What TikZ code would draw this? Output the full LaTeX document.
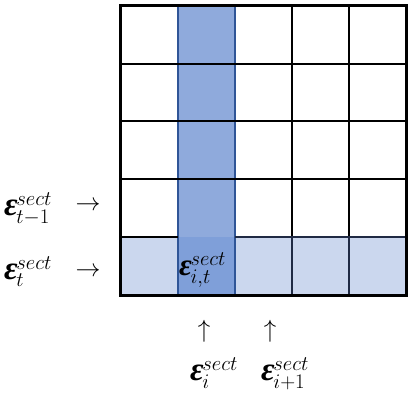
\documentclass[tikz,border=0pt]{standalone}
\usepackage{amsmath}
\usepackage{fontspec}
\newfontfamily\epsfont{Liberation Serif}
\DeclareMathSizes{30}{30}{22}{16}
\DeclareMathSizes{28}{28}{20.5}{15}
\newcommand{\beps}{\text{\epsfont\bfseries\itshape\fontsize{33}{33}\selectfont ε}\mkern-1mu}
\newcommand{\bepsc}{\text{\epsfont\bfseries\itshape\fontsize{31}{31}\selectfont ε}\mkern-1mu}
\definecolor{colband}{HTML}{8FAADC}
\definecolor{colcross}{HTML}{7F9FD9}
\definecolor{colrow}{HTML}{CBD7EE}
\definecolor{colblue}{HTML}{2F5597}
\definecolor{colnavy}{HTML}{1F2A44}
\tikzset{
  lbl/.style={inner sep=0pt, font=\fontsize{30}{32}\selectfont},
  arr/.style={inner sep=0pt, font=\fontsize{23}{25}\selectfont},
  gridline/.style={line width=2.5pt, black},
}
\begin{document}
\begin{tikzpicture}[x=1pt,y=-1pt]
\useasboundingbox (0,0) rectangle (409,393);
% fills
\fill[colrow] (120,237) rectangle (406,295);
\fill[colband] (178,6) rectangle (235,237);
\fill[colcross] (178,237) rectangle (235,295);
% inner lines
\foreach \x in {292,349} {
  \draw[gridline] (\x,6) -- (\x,237);
  \draw[line width=2.2pt, colnavy] (\x,237) -- (\x,295);
}
\foreach \x in {178,235} \draw[line width=2.2pt, colblue] (\x,6) -- (\x,295);
\foreach \y in {64,121,179,237} \draw[gridline] (120,\y) -- (178,\y) (235,\y) -- (406,\y);
\foreach \y in {64,121,179} \draw[line width=2.5pt, black] (178,\y) -- (235,\y);
\draw[line width=2.2pt, colnavy] (235,237) -- (406,237);
% outer frame
\draw[line width=3pt, black] (120,6) rectangle (406,295);
% labels
\node[lbl, anchor=base west] (lt1) at (4,215) {$\beps^{sect}_{t-1}$};
\node[arr] (at1) at (88,206) {$\rightarrow$};
\node[lbl, anchor=base west] (lt) at (4,279) {$\beps^{sect}_{t}$};
\node[arr] (at) at (88,272) {$\rightarrow$};
\node[lbl, anchor=base west, font=\fontsize{28}{30}\selectfont] (lit) at (179,275) {$\bepsc^{sect}_{i,t}$};
\node[arr] (ai) at (204,331) {$\uparrow$};
\node[arr] (ai1) at (270,331) {$\uparrow$};
\node[lbl, anchor=base west] (li) at (190,380) {$\beps^{sect}_{i}$};
\node[lbl, anchor=base west] (li1) at (261,380) {$\beps^{sect}_{i+1}$};
\end{tikzpicture}
\end{document}
